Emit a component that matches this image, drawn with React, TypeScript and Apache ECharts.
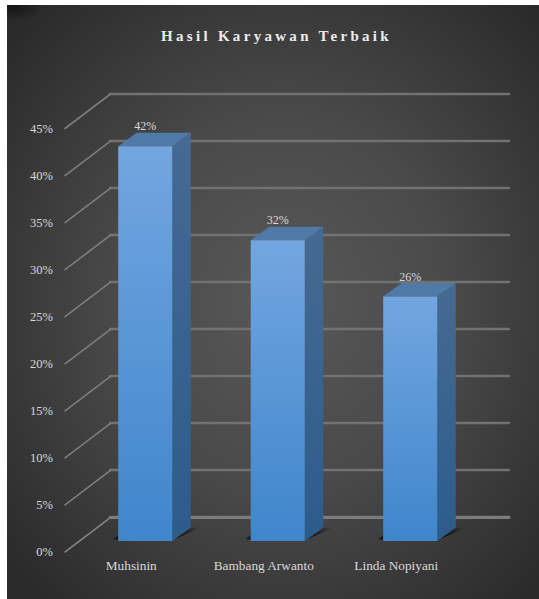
import React, { useEffect, useRef } from "react";
import * as echarts from "echarts";

const CHART_TITLE = "Hasil Karyawan Terbaik";
const employees = ["Muhsinin", "Bambang Arwanto", "Linda Nopiyani"];
const shares = [42, 32, 26];
const axisMax = 45;
const axisStep = 5;
const wallTicks = [0, 5, 10, 15, 20, 25, 30, 35, 40, 45];

const FONT = '"Liberation Serif", serif';
const TEXT = "#d9d9d9";
const GRID_LINE = "#727272";

// Depth of the bar prisms and of the side wall, in pixels.
const BAR_DEPTH = { x: 18.5, y: -13.5 };
const WALL_DEPTH = { x: 45.5, y: -34.5 };

const vGrad = (top: string, bottom: string) =>
  new echarts.graphic.LinearGradient(0, 0, 0, 1, [
    { offset: 0, color: top },
    { offset: 1, color: bottom },
  ]);

function renderBar(params: any, api: any) {
  const idx = api.value(0);
  const val = api.value(1);
  const top = api.coord([idx, val]);
  const base = api.coord([idx, 0]);
  const width = api.size([1, 0])[0] * 0.408;
  const l = top[0] - width / 2;
  const r = top[0] + width / 2;
  const dx = BAR_DEPTH.x;
  const dy = BAR_DEPTH.y;
  return {
    type: "group",
    children: [
      {
        type: "polygon",
        shape: { points: [[r + 3, base[1] - 2], [r + dx, base[1] + dy], [r + dx + 10, base[1] + dy]] },
        style: {
          fill: new echarts.graphic.LinearGradient(0, 1, 1, 0, [
            { offset: 0, color: "rgba(0,0,0,0.95)" },
            { offset: 1, color: "rgba(0,0,0,0)" },
          ]),
        },
      },
      {
        type: "polygon",
        shape: { points: [[l - 5, base[1] - 2], [l, base[1] - 6], [l, base[1] - 1]] },
        style: { fill: "rgba(0,0,0,0.55)" },
      },
      {
        type: "polygon",
        shape: { points: [[r, top[1]], [r + dx, top[1] + dy], [r + dx, base[1] + dy], [r, base[1]]] },
        style: { fill: vGrad("#466a92", "#2c5c8c") },
      },
      {
        type: "polygon",
        shape: { points: [[l, top[1]], [l + dx, top[1] + dy], [r + dx, top[1] + dy], [r, top[1]]] },
        style: { fill: "#4f79a7" },
      },
      {
        type: "rect",
        shape: { x: l, y: top[1], width, height: base[1] - top[1] },
        style: { fill: vGrad("#72a6e0", "#3f86cb") },
      },
      {
        type: "text",
        style: {
          text: `${val}%`,
          x: top[0],
          y: top[1] - 20,
          fill: TEXT,
          font: `12px ${FONT}`,
          align: "center",
          verticalAlign: "middle",
        },
      },
    ],
  };
}

// One slanted wall line, starting at the left edge of the front grid.
function renderWallLine(params: any, api: any) {
  const start = api.coord([0, api.value(0)]);
  const x = start[0] - api.size([1, 0])[0] / 2;
  return {
    type: "line",
    shape: {
      x1: x,
      y1: start[1],
      x2: x + WALL_DEPTH.x,
      y2: start[1] + WALL_DEPTH.y,
    },
    style: {
      stroke: "#7d7d7d",
      lineWidth: 1.6,
      lineCap: "round",
    },
  };
}

export default function App() {
  const ref = useRef<HTMLDivElement>(null);

  useEffect(() => {
    const chart = echarts.init(ref.current!, undefined, { renderer: "svg" });
    const hiddenAxis = { show: false };
    chart.setOption({
      animation: false,
      backgroundColor: "#ffffff",
      graphic: [
        {
          type: "rect",
          z: -10,
          silent: true,
          shape: { x: 7, y: 5, width: 532, height: 594 },
          style: {
            fill: new echarts.graphic.RadialGradient(0.52, 0.5, 0.68, [
              { offset: 0, color: "#585858" },
              { offset: 0.45, color: "#4a4a4a" },
              { offset: 1, color: "#2a2a2a" },
            ]),
          },
        },
        {
          type: "rect",
          z: -9,
          silent: true,
          shape: { x: 7, y: 5, width: 36, height: 16 },
          style: {
            fill: new echarts.graphic.RadialGradient(0.1, 0.1, 0.9, [
              { offset: 0, color: "rgba(15,15,15,0.8)" },
              { offset: 1, color: "rgba(15,15,15,0)" },
            ]),
          },
        },
        {
          type: "text",
          z: 5,
          style: {
            text: CHART_TITLE,
            x: 276.5,
            y: 36,
            fill: "#ececec",
            font: `bold 15px ${FONT}`,
            align: "center",
            verticalAlign: "middle",
            shadowBlur: 3,
            shadowColor: "rgba(0,0,0,0.8)",
            shadowOffsetX: 1,
            shadowOffsetY: 1,
          },
        },
      ],
      grid: [
        // Back wall
        { left: 110, top: 94, width: 399, height: 423 },
        // Plane of the bars' front faces
        { left: 79, top: 118, width: 397.5, height: 423 },
        // Front edge of the floor, carrying the axis labels
        { left: 65, top: 128.5, width: 397.5, height: 423.5 },
      ],
      xAxis: [
        {
          gridIndex: 0,
          type: "category",
          data: employees,
          axisTick: hiddenAxis,
          axisLabel: hiddenAxis,
          axisLine: { lineStyle: { color: "#7c7c7c", width: 3, cap: "round" } },
        },
        { gridIndex: 1, type: "category", data: employees, show: false },
        {
          gridIndex: 2,
          type: "category",
          data: employees,
          axisLine: hiddenAxis,
          axisTick: hiddenAxis,
          axisLabel: { color: TEXT, fontFamily: FONT, fontSize: 13.3, margin: 7, interval: 0 },
        },
      ],
      yAxis: [0, 1, 2].map((gridIndex) => ({
        gridIndex,
        type: "value",
        min: 0,
        max: axisMax,
        interval: axisStep,
        axisLine: hiddenAxis,
        axisTick: hiddenAxis,
        splitLine:
          gridIndex === 0
            ? { show: true, lineStyle: { color: GRID_LINE, width: 2.4, cap: "round" } }
            : hiddenAxis,
        axisLabel:
          gridIndex === 2
            ? {
                color: TEXT,
                fontFamily: FONT,
                fontSize: 12.5,
                margin: 12,
                padding: [0, 0, 6, 0],
                formatter: "{value}%",
              }
            : hiddenAxis,
      })),
      series: [
        {
          type: "custom",
          xAxisIndex: 2,
          yAxisIndex: 2,
          z: 1,
          silent: true,
          clip: false,
          data: wallTicks.map((tick) => [tick]),
          encode: { y: 0 },
          renderItem: renderWallLine,
        },
        {
          type: "custom",
          xAxisIndex: 1,
          yAxisIndex: 1,
          z: 3,
          silent: true,
          clip: false,
          data: shares.map((share, i) => [i, share]),
          encode: { x: 0, y: 1 },
          renderItem: renderBar,
        },
      ],
    });

    // Wide tracking on the title; the renderer has no option for it.
    ref.current!.querySelectorAll("text").forEach((node) => {
      if (node.textContent === CHART_TITLE) {
        node.setAttribute("letter-spacing", "3.3");
      }
    });

    return () => chart.dispose();
  }, []);

  return (
    <div
      ref={ref}
      style={{ position: "absolute", left: 0, top: 0, width: 539, height: 599 }}
    />
  );
}
